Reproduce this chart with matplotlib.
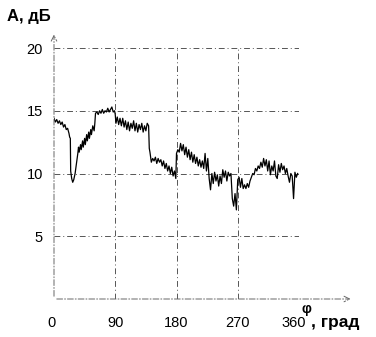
import matplotlib
matplotlib.use("Agg")
import matplotlib.pyplot as plt
import matplotlib.transforms as mtransforms

angle_deg = [0, 2, 4, 6, 8, 10, 12, 14, 16, 18, 20, 22, 23, 24, 24.5, 26, 27.5, 29, 31, 33, 35,
             36, 37, 39, 40, 42, 43, 45, 46, 48, 49, 51, 52, 54, 55, 57, 59, 60, 61, 63, 65, 67,
             69, 71, 73, 75, 77, 79, 81, 83, 85, 87, 89, 90, 91, 93, 95, 97, 99, 101, 103, 105,
             107, 109, 111, 113, 115, 117, 119, 121, 123, 125, 127, 129, 131, 133, 135, 137, 139,
             140, 141, 143, 145, 147, 149, 151, 153, 155, 157, 159, 161, 163, 165, 167, 169, 171,
             173, 175, 177, 179, 180, 182, 184, 186, 188, 190, 192, 194, 196, 198, 200, 202, 204,
             206, 208, 210, 212, 214, 216, 218, 220, 222, 224, 226, 228, 230, 232, 234, 236, 238,
             240, 242, 244, 246, 248, 250, 252, 254, 256, 258, 260, 262, 264, 266, 268, 270, 272,
             274, 276, 278, 280, 282, 284, 286, 288, 290, 292, 294, 296, 298, 300, 302, 304, 306,
             308, 310, 312, 314, 316, 318, 320, 322, 324, 326, 328, 330, 332, 334, 336, 338, 340,
             342, 344, 346, 348, 350, 352, 354, 356, 358]
amplitude_db = [14.4, 14.1, 14.3, 14.0, 14.2, 13.9, 14.1, 13.7, 13.9, 13.5, 13.6, 13.2, 12.9, 12.8,
                10.2, 9.6, 9.3, 9.5, 10.0, 10.8, 11.6,
                12.1, 11.7, 12.3, 11.9, 12.6, 12.1, 12.8, 12.3, 13.1, 12.6, 13.3, 12.8, 13.5, 13.1,
                13.8, 13.4, 14.0, 14.8, 14.9, 14.7, 15.0,
                14.8, 15.1, 14.8, 15.0, 14.9, 15.2, 14.9, 15.1, 15.3, 14.9, 15.0, 14.7, 14.0, 14.5,
                13.9, 14.4, 13.8, 14.4, 13.7, 14.2,
                13.5, 14.1, 13.4, 14.0, 13.6, 14.2, 13.4, 14.0, 13.3, 13.9, 13.5, 14.0, 13.3, 13.8,
                13.4, 14.0, 13.8,
                12.0, 11.7, 10.9, 11.2, 11.0, 11.3, 10.8, 11.2, 10.9, 11.1, 10.6, 11.0, 10.4, 10.8,
                10.2, 10.6, 10.0,
                10.5, 9.8, 10.2, 9.6, 11.6, 11.9, 11.7, 12.4, 11.8, 12.3, 11.5, 12.1, 11.3, 11.9,
                11.1, 11.7, 10.9,
                11.5, 10.8, 11.3, 10.6, 11.1, 10.5, 11.0, 10.4, 11.6, 10.2, 11.2, 9.6, 8.7, 10.0,
                9.2, 10.1, 9.4,
                9.9, 9.0, 9.8, 9.2, 10.3, 9.7, 10.2, 9.4, 10.1, 9.8, 10.0, 8.0, 7.4, 8.4, 7.1, 9.5,
                9.7,
                8.9, 9.6, 8.8, 9.1, 8.8, 9.2, 8.9, 9.4, 9.7, 10.0, 9.9, 10.4, 10.2, 10.6, 10.4, 10.9,
                10.5,
                11.2, 10.6, 11.1, 10.2, 11.0, 9.9, 10.6, 10.2, 11.0, 9.8, 9.6, 10.7, 10.1, 10.8, 10.3,
                10.6, 10.0,
                10.4, 9.8, 9.3, 10.0, 9.8, 8.0, 10.1, 9.7, 10.0]

x_ticks = [0, 90, 180, 270, 360]
y_ticks = [5, 10, 15, 20]
x_labels = ["0", "90", "180", "270", "360"]
y_labels = ["5", "10", "15", "20"]

plt.rcParams['font.family'] = ['Liberation Sans', 'DejaVu Sans']

fig = plt.figure(figsize=(3.76, 3.37), dpi=100)
ax = fig.add_axes([54/376, 1-299/337, 245/376, 251/337])
ax.set_xlim(0, 360)
ax.set_ylim(0, 20)

grid_style = dict(color='#555555', lw=0.7, ls=(0, (6, 3, 1, 3)))
for xv in x_ticks[1:]:
    ax.axvline(xv, **grid_style)
for yv in y_ticks:
    ax.axhline(yv, **grid_style)

ax.plot(angle_deg, amplitude_db, color='black', lw=0.9)

for s in ax.spines.values():
    s.set_visible(False)

arrow_style = dict(arrowstyle='->', color='#666666', lw=0.7, ls=(0, (6, 2, 1, 2)))
ax.annotate('', xy=(0, 21.3), xytext=(0, 0), xycoords='data', annotation_clip=False,
            arrowprops=arrow_style)
ax.annotate('', xy=(440, 0), xytext=(0, 0), xycoords='data', annotation_clip=False,
            arrowprops=arrow_style)

ax.set_xticks(x_ticks)
ax.set_xticklabels(x_labels)
ax.set_yticks(y_ticks)
ax.set_yticklabels(y_labels)
ax.tick_params(axis='both', length=0, labelsize=10.5)
ax.tick_params(axis='x', pad=12)
ax.tick_params(axis='y', pad=8)

fig.canvas.draw()
xt = ax.get_xticklabels()
for lab, dx in ((xt[0], -3), (xt[-1], -5)):
    off = mtransforms.ScaledTranslation(dx/100, 0, fig.dpi_scale_trans)
    lab.set_transform(lab.get_transform() + off)

fig.text(7/376, 1-17/337, "A, дБ", fontsize=12, fontweight='bold', va='center', ha='left')
fig.text(306/376, 1-309/337, "φ", fontsize=10, fontweight='bold', va='center', ha='center')
fig.text(311/376, 1-323/337, ", град", fontsize=12.5, fontweight='bold', va='center', ha='left')

fig.savefig("out.png", dpi=100)
